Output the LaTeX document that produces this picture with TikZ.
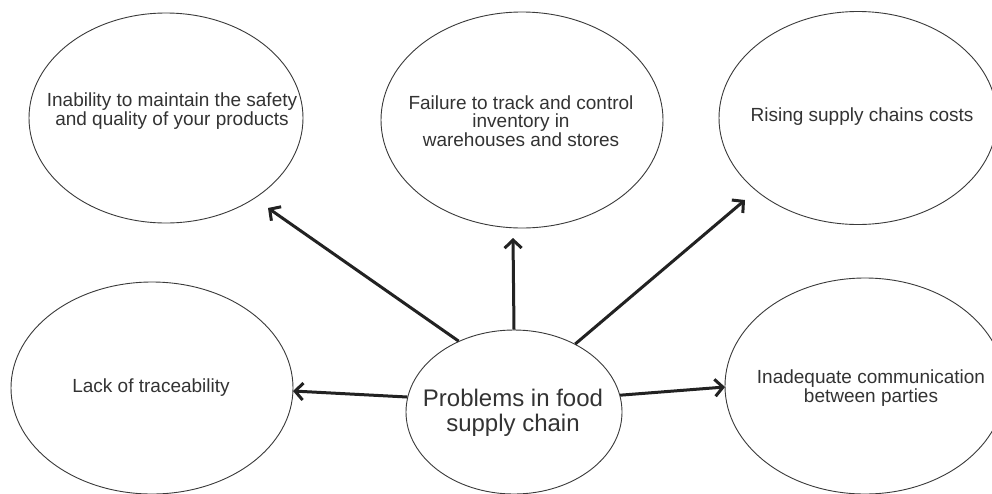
\documentclass[tikz,border=0pt]{standalone}
\usepackage{fontspec}
\setmainfont{Liberation Sans}
\usetikzlibrary{shapes.geometric,arrows.meta}
\definecolor{ink}{HTML}{333333}
\definecolor{arrowc}{HTML}{222222}
\definecolor{rimc}{HTML}{3A3A3A}
\begin{document}
\begin{tikzpicture}[x=1pt,y=-1pt,
  bubble/.style={draw=rimc, line width=0.9pt, ellipse, inner sep=0pt},
  lbl/.style={text=ink, align=center, font=\fontsize{19}{18.5}\selectfont, inner sep=0pt},
  biglbl/.style={text=ink, align=center, font=\fontsize{24}{25}\selectfont, inner sep=0pt},
  arr/.style={draw=arrowc, line width=3pt, -{Straight Barb[length=8pt,width=17pt]}}]
\useasboundingbox (0,0) rectangle (992,493);
\clip (0,0) rectangle (992,493);
\fill[white] (0,0) rectangle (992,493);
% ellipses
\node[bubble, minimum width=274pt, minimum height=210pt] (e1) at (166,118) {};
\node[bubble, minimum width=282pt, minimum height=216pt] (e2) at (522,120) {};
\node[bubble, minimum width=278pt, minimum height=213pt] (e3) at (858,118) {};
\node[bubble, minimum width=282pt, minimum height=212pt] (e4) at (152,388) {};
\node[bubble, minimum width=216pt, minimum height=164pt] (e5) at (514,412) {};
\node[bubble, minimum width=280pt, minimum height=216pt] (e6) at (865,386) {};
% texts
\node[lbl] (t1) at (172,111) {Inability to maintain the safety\\and quality of your products};
\node[lbl] (t2) at (521,121) {Failure to track and control\\inventory in\\warehouses and stores};
\node[lbl] (t3) at (862,117) {Rising supply chains costs};
\node[lbl] (t4) at (151,388) {Lack of traceability};
\node[biglbl] (t5) at (513,413) {Problems in food\\supply chain};
\node[lbl] (t6) at (871,388) {Inadequate communication\\between parties};
% arrow tips
\coordinate (p1) at (268,208);
\coordinate (p2) at (513,238);
\coordinate (p3) at (745,200);
\coordinate (p4) at (293,391);
\coordinate (p5) at (725,387);
% arrows
\draw[arr] (e5.128.7) -- (p1);
\draw[arr] (e5.90) -- (p2);
\draw[arr] (e5.48.5) -- (p3);
\draw[arr] (e5.172.5) -- (p4);
\draw[arr] (e5.9) -- (p5);
\end{tikzpicture}
\end{document}
